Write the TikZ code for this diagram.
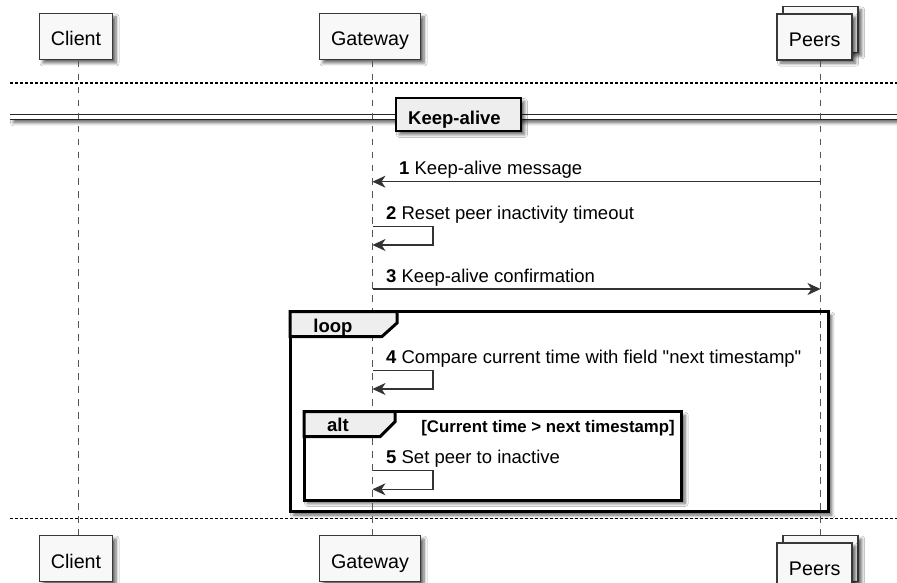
\documentclass[tikz,border=0pt]{standalone}
\usepackage{fontspec}
\setmainfont{Liberation Sans}[Ligatures=TeXOff]
\usetikzlibrary{arrows.meta,shadows.blur}

\definecolor{boxfill}{HTML}{F8F8F8}
\definecolor{boxline}{HTML}{383838}
\definecolor{tabgrey}{HTML}{EEEEEE}
\definecolor{lifegrey}{HTML}{555555}
\definecolor{msgline}{HTML}{333333}

\tikzset{
  softshadow/.style={blur shadow={shadow xshift=3.5pt, shadow yshift=-3.5pt,
      shadow blur steps=6, shadow blur radius=3pt, shadow opacity=60}},
  partbox/.style={draw=boxline, line width=1.8pt, fill=boxfill, minimum height=46pt,
      inner sep=0pt, text height=19pt, text depth=0pt,
      font=\fontsize{19.7}{22}\selectfont, softshadow},
  lifeline/.style={draw=lifegrey, line width=1pt, dash pattern=on 6.5pt off 6.5pt},
  separator/.style={draw=black, line width=1.1pt, dash pattern=on 3pt off 2pt},
  msg/.style={draw=msgline, line width=1.5pt,
      -{Stealth[length=13pt,width=12pt,inset=4pt,line width=0.8pt]}},
  msglabel/.style={anchor=base west, inner sep=0pt, font=\fontsize{18.5}{22}\selectfont},
  framefill/.style={fill=white, softshadow},
  frameline/.style={draw=black, line width=3pt},
  tabshape/.style={fill=tabgrey, draw=black, line width=3pt, line join=miter},
  framelabel/.style={anchor=base, inner sep=0pt, font=\bfseries\fontsize{18.5}{22}\selectfont},
  guardlabel/.style={anchor=base east, inner sep=0pt, font=\bfseries\fontsize{16.8}{20}\selectfont},
}

\begin{document}
\begin{tikzpicture}[x=1pt, y=-1pt]
  \useasboundingbox (0,0) rectangle (897,583);
  \clip (0,0) rectangle (897,583);
  \fill[white] (0,0) rectangle (897,583);

  % lifeline x positions
  \def\xc{78.7}
  \def\xg{372.5}
  \def\xp{820.5}

  % dotted separators
  \coordinate (sepTopL) at (10,83);
  \coordinate (sepTopR) at (897,83);
  \coordinate (sepBotL) at (10,518.5);
  \coordinate (sepBotR) at (897,518.5);
  \draw[separator] (sepTopL) -- (sepTopR);
  \draw[separator] (sepBotL) -- (sepBotR);

  % "Keep-alive" divider: double rule
  \coordinate (divA) at (10,114.5);
  \coordinate (divB) at (897,119.3);
  \coordinate (divAr) at (897,114.5);
  \coordinate (divBl) at (10,119.3);
  \path[framefill] (divA) rectangle (divB);
  \draw[black!85, line width=1.4pt] (divA) -- (divAr);
  \draw[black!85, line width=1.4pt] (divBl) -- (divB);

  % frame backgrounds (with shadows)
  \coordinate (loopTL) at (290,311.7);
  \coordinate (loopBR) at (828.3,511.7);
  \coordinate (altTL) at (304,411.7);
  \coordinate (altBR) at (681.7,500);
  \path[framefill] (loopTL) rectangle (loopBR);
  \path[framefill] (altTL) rectangle (altBR);

  % participants
  \node[partbox, minimum width=73pt] (clientTop) at (76,36.5) {Client};
  \node[partbox, minimum width=101pt] (gatewayTop) at (370,36.5) {Gateway};
  \node[partbox, minimum width=75pt] (peersTopBack) at (820.7,29.5) {};
  \node[partbox, minimum width=75pt] (peersTop) at (814.7,36.7) {Peers};

  \node[partbox, minimum width=73pt] (clientBot) at (76,558.5) {Client};
  \node[partbox, minimum width=101pt] (gatewayBot) at (370,558.5) {Gateway};
  \node[partbox, minimum width=75pt] (peersBotBack) at (820.7,558.5) {};
  \node[partbox, minimum width=75pt] (peersBot) at (814.7,565.7) {Peers};

  % lifelines
  \coordinate (clientL1) at (\xc,61);
  \coordinate (clientL2) at (\xc,535);
  \coordinate (gatewayL1) at (\xg,61);
  \coordinate (gatewayL2) at (\xg,535);
  \coordinate (peersL1) at (\xp,61);
  \coordinate (peersL2) at (\xp,535);
  \draw[lifeline] (clientL1) -- (clientL2);
  \draw[lifeline] (gatewayL1) -- (gatewayL2);
  \draw[lifeline] (peersL1) -- (peersL2);

  % frame borders and tabs
  \draw[frameline] (loopTL) rectangle (loopBR);
  \draw[tabshape] (290,311.7) -- (397,311.7) -- (397,323) -- (382,336.5) -- (290,336.5) -- cycle;
  \node[framelabel] (loopLabel) at (333,332) {loop};

  \draw[frameline] (altTL) rectangle (altBR);
  \draw[tabshape] (304,411.7) -- (395,411.7) -- (395,421.7) -- (380,436.7) -- (304,436.7) -- cycle;
  \node[framelabel] (altLabel) at (338,431.7) {alt};
  \node[guardlabel] (altGuard) at (675,432) {[Current time > next timestamp]};

  % divider box
  \node[draw=black, line width=2.6pt, fill=tabgrey, softshadow,
        minimum width=125pt, minimum height=33pt, inner sep=0pt] (kaBox) at (458.5,114.5) {};
  \node[framelabel] (kaLabel) at (454.5,125) {Keep-alive};

  % 1: Peers -> Gateway
  \coordinate (m1from) at (\xp,181.7);
  \coordinate (m1to) at (\xg,181.7);
  \draw[msg] (m1from) -- (m1to);
  \node[msglabel] (m1label) at (399,175) {\textbf{1} Keep-alive message};

  % 2: Gateway self message
  \coordinate (m2a) at (\xg,226.7);
  \coordinate (m2b) at (433,226.7);
  \coordinate (m2c) at (433,245);
  \coordinate (m2d) at (\xg,245);
  \draw[msg] (m2a) -- (m2b) -- (m2c) -- (m2d);
  \node[msglabel] (m2label) at (386,219.3) {\textbf{2} Reset peer inactivity timeout};

  % 3: Gateway -> Peers
  \coordinate (m3from) at (\xg,289);
  \coordinate (m3to) at (\xp,289);
  \draw[msg] (m3from) -- (m3to);
  \node[msglabel] (m3label) at (386,282) {\textbf{3} Keep-alive confirmation};

  % 4: Gateway self message (loop)
  \coordinate (m4a) at (\xg,370.7);
  \coordinate (m4b) at (433,370.7);
  \coordinate (m4c) at (433,389);
  \coordinate (m4d) at (\xg,389);
  \draw[msg] (m4a) -- (m4b) -- (m4c) -- (m4d);
  \node[msglabel] (m4label) at (386,363.3) {\textbf{4} Compare current time with field "next timestamp"};

  % 5: Gateway self message (alt)
  \coordinate (m5a) at (\xg,470.7);
  \coordinate (m5b) at (433,470.7);
  \coordinate (m5c) at (433,489.3);
  \coordinate (m5d) at (\xg,489.3);
  \draw[msg] (m5a) -- (m5b) -- (m5c) -- (m5d);
  \node[msglabel] (m5label) at (386,463.3) {\textbf{5} Set peer to inactive};
\end{tikzpicture}
\end{document}
